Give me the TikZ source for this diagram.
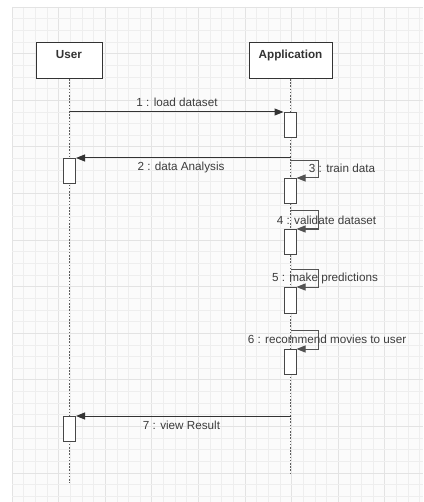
\documentclass[tikz,border=0pt]{standalone}
\usepackage{fontspec}
\setmainfont{Liberation Sans}
\usetikzlibrary{arrows.meta}
\definecolor{ink}{HTML}{333333}
\definecolor{txt}{HTML}{3C3C3C}
\definecolor{paper}{HTML}{FBFBFB}
\definecolor{gridminor}{HTML}{EEEEEE}
\definecolor{gridmajor}{HTML}{E3E3E3}
\tikzset{
  headbox/.style={draw=ink, fill=white, line width=1pt, minimum width=66pt, minimum height=36pt, inner sep=0pt},
  headtxt/.style={font=\fontsize{11.7}{14}\selectfont\bfseries, text=ink, inner sep=0pt},
  life/.style={draw=ink!80, line width=0.9pt, dash pattern=on 1.6pt off 1.6pt},
  act/.style={draw=ink!90, fill=white, line width=1pt, minimum width=12pt, minimum height=25pt, inner sep=0pt, anchor=north},
  msg/.style={draw=ink, line width=1pt, -{Triangle[length=9pt,width=7pt]}},
  loopmsg/.style={draw=ink!85, line width=1pt, -{Triangle[length=9pt,width=7pt]}},
  lbl/.style={font=\fontsize{11.7}{14}\selectfont, text=txt, inner sep=0pt}
}
\begin{document}
\begin{tikzpicture}[x=1pt,y=-1pt]
  \useasboundingbox (0,0) rectangle (423,502);
  \fill[white] (0,0) rectangle (423,502);
  % drawing paper with grid
  \fill[paper] (12,7) rectangle (423,502);
  \foreach \i in {0,...,35} {
    \pgfmathsetmacro{\gx}{12+11.65*\i}
    \pgfmathtruncatemacro{\mj}{mod(\i,4)}
    \ifnum\mj=0
      \draw[gridmajor, line width=0.7pt] (\gx,7) -- (\gx,502);
    \else
      \draw[gridminor, line width=0.6pt] (\gx,7) -- (\gx,502);
    \fi
  }
  \foreach \j in {0,...,42} {
    \pgfmathsetmacro{\gy}{7+11.65*\j}
    \pgfmathtruncatemacro{\mj}{mod(\j,4)}
    \ifnum\mj=0
      \draw[gridmajor, line width=0.7pt] (12,\gy) -- (423,\gy);
    \else
      \draw[gridminor, line width=0.6pt] (12,\gy) -- (423,\gy);
    \fi
  }

  % lifeline heads
  \node[headbox] (user) at (69,61) {};
  \node[headtxt] (usertxt) at (69,55) {User};
  \node[headbox, minimum width=83pt] (app) at (290.5,61) {};
  \node[headtxt] (apptxt) at (290.5,55) {Application};

  % lifeline ends
  \coordinate (userend) at (69.5,483);
  \coordinate (append) at (290.5,473);
  \draw[life] (69.5,79) -- (userend);
  \draw[life] (290.5,79) -- (append);

  % activation bars
  \node[act] (a1) at (290,112) {};
  \node[act] (u2) at (69.5,158) {};
  \node[act] (a3) at (290,178) {};
  \node[act] (a4) at (290,229) {};
  \node[act, minimum height=26pt] (a5) at (290,287) {};
  \node[act] (a6) at (290,349) {};
  \node[act] (u7) at (69.5,416) {};

  % message start points on the lifelines
  \coordinate (s1) at (69.5,112);
  \coordinate (s2) at (290.5,158);
  \coordinate (s3) at (290.5,161);
  \coordinate (s4) at (290.5,211);
  \coordinate (s5) at (290.5,269);
  \coordinate (s6) at (290.5,330);
  \coordinate (s7) at (290.5,416);

  % messages
  \draw[msg] (s1) -- (a1.north west);
  \draw[msg] (s2) -- (u2.north east);
  \draw[loopmsg] (s3) -- (318.5,161) |- (a3.north east);
  \draw[loopmsg] (s4) -- (318.5,211) |- (a4.north east);
  \draw[loopmsg] (s5) -- (318.5,269) |- (a5.north east);
  \draw[loopmsg] (s6) -- (318.5,330) |- (a6.north east);
  \draw[msg] (s7) -- (u7.north east);

  % message labels
  \node[lbl] (l1) at (177,102) {1 : load dataset};
  \node[lbl] (l2) at (181,167) {2 : data Analysis};
  \node[lbl] (l3) at (342,168) {3 : train data};
  \node[lbl] (l4) at (326.5,220) {4 : validate dataset};
  \node[lbl] (l5) at (325,278) {5 : make predictions};
  \node[lbl] (l6) at (327,339) {6 : recommend movies to user};
  \node[lbl] (l7) at (181.5,425) {7 : view Result};
\end{tikzpicture}
\end{document}
